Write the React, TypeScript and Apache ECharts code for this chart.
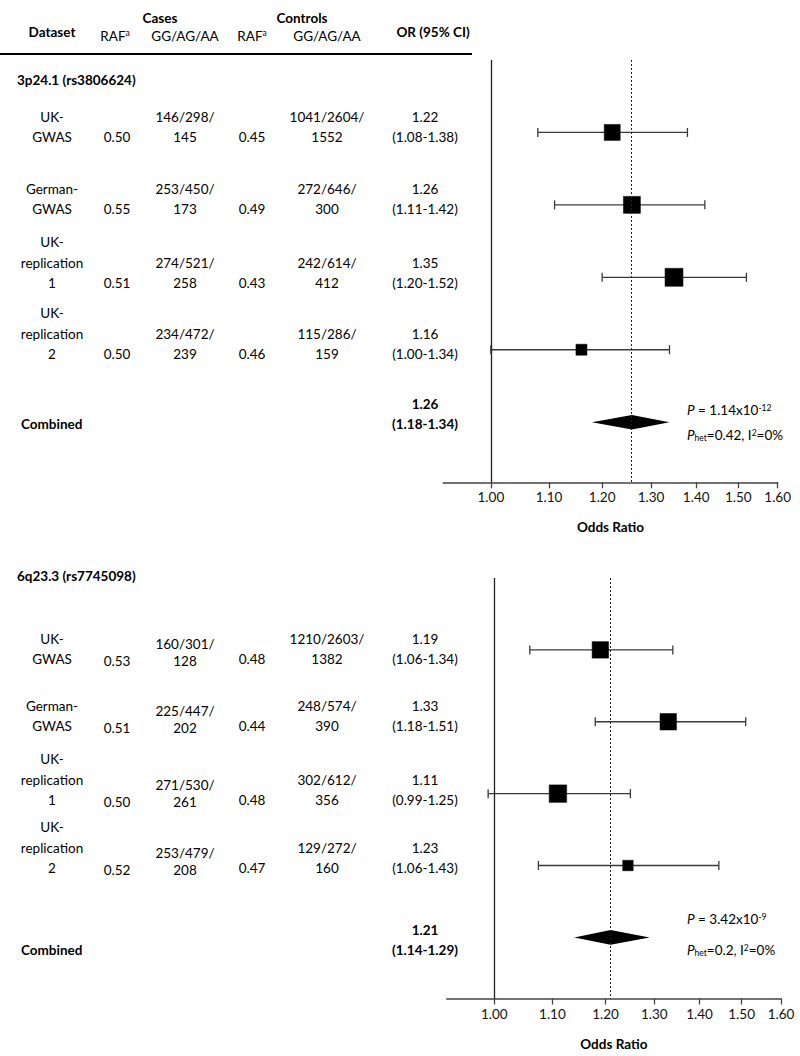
import React, { useEffect, useRef } from "react";
import * as echarts from "echarts";

// ---------- data ----------
const datasetNames: string[][] = [
  ["UK-", "GWAS"],
  ["German-", "GWAS"],
  ["UK-", "replication", "1"],
  ["UK-", "replication", "2"],
];

const tickORs = [1.0, 1.1, 1.2, 1.3, 1.4, 1.5, 1.6];
const axisMinOR = 0.925;
const axisMaxOR = 1.6;

// 3p24.1 (rs3806624)
const snp1Title = "3p24.1 (rs3806624)";
const snp1RafCases = ["0.50", "0.55", "0.51", "0.50"];
const snp1GenoCases = ["146/298/145", "253/450/173", "274/521/258", "234/472/239"];
const snp1RafControls = ["0.45", "0.49", "0.43", "0.46"];
const snp1GenoControls = ["1041/2604/1552", "272/646/300", "242/614/412", "115/286/159"];
const snp1OrLabels = ["1.22", "1.26", "1.35", "1.16"];
const snp1CiLabels = ["(1.08-1.38)", "(1.11-1.42)", "(1.20-1.52)", "(1.00-1.34)"];
const snp1Or = [1.22, 1.26, 1.35, 1.16];
const snp1Lo = [1.08, 1.11, 1.2, 1.0];
const snp1Hi = [1.38, 1.42, 1.52, 1.34];
const snp1Weight = [16, 17, 18, 11];
const snp1Combined = [1.18, 1.26, 1.34]; // lo, OR, hi
const snp1CombinedLabels = ["1.26", "(1.18-1.34)"];
const snp1P = ["1.14x10", "-12"];
const snp1Het = ["0.42", "0%"];

// 6q23.3 (rs7745098)
const snp2Title = "6q23.3 (rs7745098)";
const snp2RafCases = ["0.53", "0.51", "0.50", "0.52"];
const snp2GenoCases = ["160/301/128", "225/447/202", "271/530/261", "253/479/208"];
const snp2RafControls = ["0.48", "0.44", "0.48", "0.47"];
const snp2GenoControls = ["1210/2603/1382", "248/574/390", "302/612/356", "129/272/160"];
const snp2OrLabels = ["1.19", "1.33", "1.11", "1.23"];
const snp2CiLabels = ["(1.06-1.34)", "(1.18-1.51)", "(0.99-1.25)", "(1.06-1.43)"];
// marks as drawn in the reference (last row is drawn slightly right of its printed values)
const snp2Or = [1.19, 1.33, 1.11, 1.245];
const snp2Lo = [1.06, 1.18, 0.99, 1.075];
const snp2Hi = [1.34, 1.51, 1.25, 1.445];
const snp2Weight = [16.5, 16.5, 17.5, 10.5];
const snp2Combined = [1.14, 1.21, 1.29];
const snp2CombinedLabels = ["1.21", "(1.14-1.29)"];
const snp2P = ["3.42x10", "-9"];
const snp2Het = ["0.2", "0%"];

// ---------- layout / style ----------
const FONT = "Lato, 'Open Sans', sans-serif";
const FS = 13.5;
const LS = 20.5;
const COL = { dataset: 52, rafCases: 117, genoCases: 185, rafControls: 252, genoControls: 327, or: 425 };
const ln = Math.log;

function txt(x: number, y: number, text: string, opts: any = {}) {
  const align = opts.align || "center";
  return {
    type: "text",
    x,
    y,
    silent: true,
    style: {
      text,
      fontFamily: FONT,
      fontSize: opts.fontSize || FS,
      fontWeight: opts.bold ? "bold" : "normal",
      fill: "#000",
      align,
      verticalAlign: "middle",
      textAlign: align,
      textVerticalAlign: "middle",
      ...(opts.rich ? { rich: opts.rich } : {}),
    },
  };
}

const richBase = {
  n: { fontFamily: FONT, fontSize: FS, fill: "#000" },
  b: { fontFamily: FONT, fontSize: FS, fill: "#000", fontWeight: "bold" },
  i: { fontFamily: FONT, fontSize: FS, fill: "#000", fontStyle: "italic" },
  sup: { fontFamily: FONT, fontSize: 8.5, fill: "#000", verticalAlign: "top" },
  sub: { fontFamily: FONT, fontSize: 8.5, fill: "#000", verticalAlign: "bottom" },
};

function splitGeno(s: string) {
  const k = s.lastIndexOf("/") + 1;
  return [s.slice(0, k), s.slice(k)];
}

function panelTexts(d: any, rowsYb: number[], casesDy: number, casesSpacing: number, titleY: number, combYb: number, pY: number[]) {
  const els: any[] = [];
  els.push(txt(17, titleY, d.title, { align: "left", bold: true }));
  rowsYb.forEach((yb, k) => {
    const names = datasetNames[k];
    names.forEach((line, j) => els.push(txt(COL.dataset, yb - (names.length - 1 - j) * LS, line)));
    els.push(txt(COL.rafCases, yb + casesDy, d.rafCases[k]));
    const gc = splitGeno(d.genoCases[k]);
    els.push(txt(COL.genoCases, yb + casesDy - casesSpacing, gc[0]));
    els.push(txt(COL.genoCases, yb + casesDy, gc[1]));
    els.push(txt(COL.rafControls, yb, d.rafControls[k]));
    const gt = splitGeno(d.genoControls[k]);
    els.push(txt(COL.genoControls, yb - LS, gt[0]));
    els.push(txt(COL.genoControls, yb, gt[1]));
    els.push(txt(COL.or, yb - LS, d.orLabels[k]));
    els.push(txt(COL.or, yb, d.ciLabels[k]));
  });
  els.push(txt(21, combYb, "Combined", { align: "left", bold: true }));
  els.push(txt(COL.or, combYb - LS, d.combinedLabels[0], { bold: true }));
  els.push(txt(COL.or, combYb, d.combinedLabels[1], { bold: true }));
  els.push(
    txt(687, pY[0], `{i|P}{n| = ${d.p[0]}}{sup|${d.p[1]}}`, { align: "left", rich: richBase })
  );
  els.push(
    txt(687, pY[1], `{i|P}{sub|het}{n|=${d.het[0]}, I}{sup|2}{n|=${d.het[1]}}`, { align: "left", rich: richBase })
  );
  return els;
}

function panelSeries(i: number, or: number[], lo: number[], hi: number[], w: number[], comb: number[]) {
  return [
    {
      type: "custom",
      xAxisIndex: i,
      yAxisIndex: i,
      z: 2,
      silent: true,
      encode: { x: [0, 1], y: 2 },
      data: lo.map((l, k) => [ln(l), ln(hi[k]), k + 1]),
      renderItem: (params: any, api: any) => {
        const y = api.value(2);
        const a = api.coord([api.value(0), y]);
        const b = api.coord([api.value(1), y]);
        const st = { stroke: "#3a3a3a", lineWidth: 1.3 };
        const cap = 4.5;
        return {
          type: "group",
          children: [
            { type: "line", shape: { x1: a[0], y1: a[1], x2: b[0], y2: b[1] }, style: st },
            { type: "line", shape: { x1: a[0], y1: a[1] - cap, x2: a[0], y2: a[1] + cap }, style: st },
            { type: "line", shape: { x1: b[0], y1: b[1] - cap, x2: b[0], y2: b[1] + cap }, style: st },
          ],
        };
      },
    },
    {
      type: "scatter",
      xAxisIndex: i,
      yAxisIndex: i,
      z: 3,
      silent: true,
      symbol: "rect",
      symbolSize: (_v: any, p: any) => w[p.dataIndex],
      itemStyle: { color: "#000", opacity: 1, borderColor: "#000", borderWidth: 0.5 },
      data: or.map((o, k) => [ln(o), k + 1]),
      markLine: {
        silent: true,
        symbol: ["none", "none"],
        label: { show: false },
        animation: false,
        data: [
          { xAxis: ln(1.0), lineStyle: { color: "#222", width: 1.3, type: "solid", opacity: 1 } },
          { xAxis: ln(comb[1]), lineStyle: { color: "#222", width: 1, type: [2, 2], opacity: 1 } },
        ],
      },
    },
    {
      type: "custom",
      xAxisIndex: i,
      yAxisIndex: i,
      z: 3,
      silent: true,
      encode: { x: [0, 1, 2], y: 3 },
      data: [[ln(comb[0]), ln(comb[1]), ln(comb[2]), 5]],
      renderItem: (params: any, api: any) => {
        const y = api.value(3);
        const a = api.coord([api.value(0), y]);
        const c = api.coord([api.value(1), y]);
        const b = api.coord([api.value(2), y]);
        const h = 7.3;
        return {
          type: "polygon",
          shape: { points: [[a[0], a[1]], [c[0], c[1] - h], [b[0], b[1]], [c[0], c[1] + h]] },
          style: { fill: "#000" },
        };
      },
    },
  ];
}

function xAxis(i: number) {
  const ticks = tickORs.map(ln);
  return {
    type: "value",
    gridIndex: i,
    min: ln(axisMinOR),
    max: ln(axisMaxOR),
    splitLine: { show: false },
    axisLine: { show: true, onZero: false, lineStyle: { color: "#444", width: 1.5 } },
    axisTick: { show: true, customValues: ticks, length: 6, lineStyle: { color: "#444", width: 1.3 } },
    axisLabel: {
      customValues: ticks,
      formatter: (v: number) => Math.exp(v).toFixed(2),
      color: "#111",
      fontFamily: FONT,
      fontSize: FS,
      margin: 8,
    },
    name: "Odds Ratio",
    nameLocation: "middle",
    nameGap: 38,
    nameTextStyle: { fontFamily: FONT, fontSize: FS, fontWeight: "bold", color: "#000" },
  };
}

function buildOption() {
  const d1 = {
    title: snp1Title, rafCases: snp1RafCases, genoCases: snp1GenoCases, rafControls: snp1RafControls,
    genoControls: snp1GenoControls, orLabels: snp1OrLabels, ciLabels: snp1CiLabels,
    combinedLabels: snp1CombinedLabels, p: snp1P, het: snp1Het,
  };
  const d2 = {
    title: snp2Title, rafCases: snp2RafCases, genoCases: snp2GenoCases, rafControls: snp2RafControls,
    genoControls: snp2GenoControls, orLabels: snp2OrLabels, ciLabels: snp2CiLabels,
    combinedLabels: snp2CombinedLabels, p: snp2P, het: snp2Het,
  };
  const header = [
    txt(52, 31.7, "Dataset", { bold: true }),
    txt(160, 18.3, "Cases", { bold: true }),
    txt(302, 18.3, "Controls", { bold: true }),
    txt(115, 35.7, "{n|RAF}{sup|a}", { rich: richBase }),
    txt(185, 35.7, "GG/AG/AA"),
    txt(252, 35.7, "{n|RAF}{sup|a}", { rich: richBase }),
    txt(327, 35.7, "GG/AG/AA"),
    txt(433, 31.7, "OR (95% CI)", { bold: true }),
    { type: "line", silent: true, shape: { x1: 0, y1: 54, x2: 472, y2: 54 }, style: { stroke: "#000", lineWidth: 2 } },
  ];
  return {
    animation: false,
    backgroundColor: "#fff",
    grid: [
      { left: 443.3, width: 334.4, top: 60, height: 422.3 },
      { left: 446.7, width: 334.3, top: 578, height: 420.5 },
    ],
    xAxis: [xAxis(0), xAxis(1)],
    yAxis: [
      { type: "value", gridIndex: 0, min: 0, max: 5.83, inverse: true, show: false },
      { type: "value", gridIndex: 1, min: 0, max: 5.85, inverse: true, show: false },
    ],
    series: [
      ...panelSeries(0, snp1Or, snp1Lo, snp1Hi, snp1Weight, snp1Combined),
      ...panelSeries(1, snp2Or, snp2Lo, snp2Hi, snp2Weight, snp2Combined),
    ],
    graphic: [
      ...header,
      ...panelTexts(d1, [137, 209, 283, 354], 0, LS, 80, 424, [410, 435]),
      ...panelTexts(d2, [659, 726, 800, 868], 2, 17, 576, 950, [919, 950]),
    ],
  };
}

export default function App() {
  const ref = useRef<HTMLDivElement>(null);
  useEffect(() => {
    document.body.style.margin = "0";
    const chart = echarts.init(ref.current!, null, { renderer: "svg", width: 800, height: 1056 });
    chart.setOption(buildOption() as any);
    return () => chart.dispose();
  }, []);
  return <div ref={ref} style={{ width: 800, height: 1056 }} />;
}
